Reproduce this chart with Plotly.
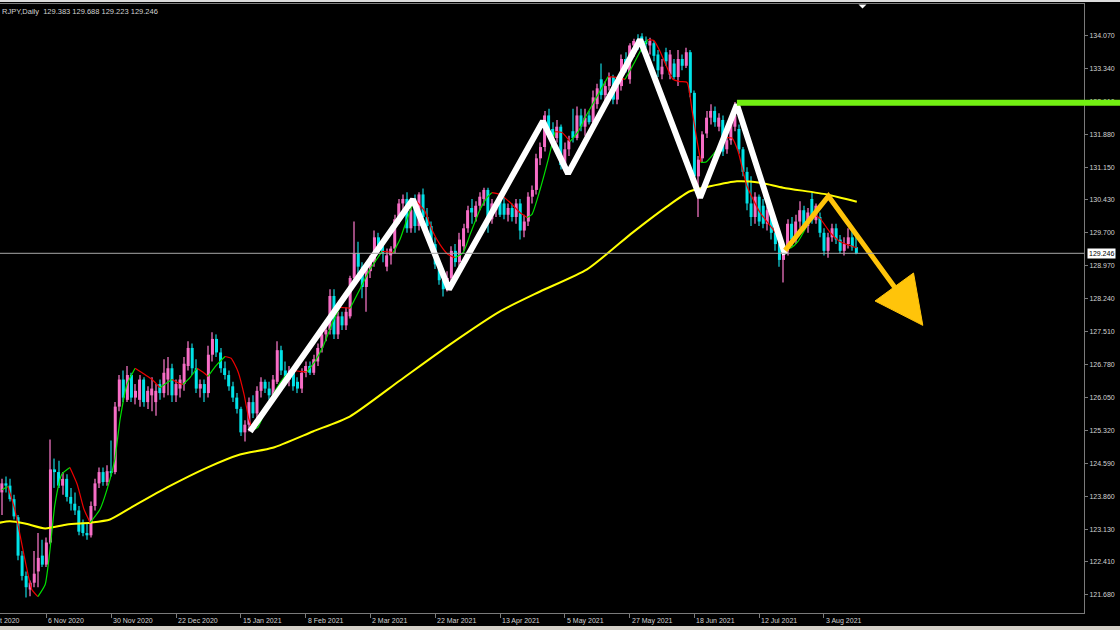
import plotly.graph_objects as go

# ---------------- data ----------------
symbol_title = "RJPY,Daily  129.383 129.688 129.223 129.246"
first_bar = 5  # index of first visible daily bar (bar 0 = mid Oct 2020, off-screen)

opens = [
    123.95,124.15,124.10,123.80,123.40,122.55,122.10,121.80,121.95,122.20,
    122.55,122.35,122.84,124.46,124.40,124.10,124.25,123.85,123.70,123.55,
    123.28,123.05,123.00,123.65,124.15,124.40,124.18,124.42,124.40,125.85,
    126.45,126.00,126.55,126.05,126.00,126.45,125.95,126.10,125.95,126.35,
    126.15,126.45,126.70,126.10,126.25,126.35,126.75,127.15,126.70,126.25,
    126.35,126.15,127.00,127.35,127.05,126.70,126.55,126.30,126.05,125.80,
    125.28,125.45,125.95,125.70,126.20,126.40,126.25,126.10,126.40,127.10,
    126.65,126.45,126.65,126.40,126.25,126.60,126.75,126.60,126.85,127.15,
    127.45,127.55,128.30,127.45,127.85,127.65,127.85,128.70,129.25,128.95,
    128.50,128.85,129.05,129.60,129.40,128.95,129.20,129.35,130.00,130.35,
    130.45,129.80,130.40,129.85,130.55,130.05,129.85,129.45,129.00,128.65,
    128.45,128.70,129.30,129.05,129.40,129.80,130.25,130.05,130.30,130.45,
    130.65,130.00,130.20,130.45,130.35,130.10,130.25,130.05,130.35,129.75,
    129.95,130.50,130.65,131.35,131.60,132.30,132.00,131.80,132.05,131.20,
    131.55,131.95,131.80,132.30,132.05,132.30,132.15,132.55,133.10,132.75,
    132.95,133.15,132.65,132.95,133.55,133.10,133.85,133.98,134.05,133.95,
    133.85,133.90,133.65,133.21,133.70,133.20,133.45,133.15,133.55,133.40,
    133.70,132.80,130.95,131.35,131.90,132.25,132.40,132.05,132.20,131.55,
    131.75,132.05,132.00,131.55,131.05,130.35,130.05,130.50,130.30,129.90,
    130.20,129.70,129.45,129.10,129.30,129.90,129.55,129.95,130.20,129.85,
    130.45,129.98,130.05,129.70,129.30,129.60,129.80,129.55,129.30,129.45,
    129.60,129.383,
]
highs = [
    124.25,124.30,124.25,123.90,123.45,122.65,122.20,122.00,122.65,123.05,
    122.90,122.95,125.12,124.70,124.65,124.40,124.35,124.05,123.95,123.65,
    123.35,123.25,123.75,124.25,124.50,124.50,124.55,125.10,125.95,126.55,
    126.65,126.75,126.60,126.35,126.55,126.50,126.30,126.50,126.35,126.45,
    126.90,126.95,126.80,126.45,126.55,126.95,127.30,127.25,126.90,126.45,
    126.45,127.20,127.50,127.45,127.15,126.85,126.65,126.40,126.15,125.85,
    125.55,126.05,126.10,126.30,126.50,126.45,126.40,126.55,127.30,127.20,
    126.85,126.75,126.70,126.50,126.70,126.85,126.85,127.00,127.25,127.55,
    127.70,128.45,128.45,127.95,127.95,128.05,128.75,129.95,129.50,129.05,
    129.05,129.20,129.75,129.70,129.50,129.35,129.40,130.10,130.45,130.55,
    130.60,130.30,130.55,130.60,130.68,130.25,129.95,129.60,129.10,128.75,
    128.85,129.40,129.45,129.70,129.90,130.30,130.45,130.40,130.60,130.70,
    130.70,130.45,130.40,130.55,130.50,130.35,130.35,130.45,130.45,130.10,
    130.60,130.75,131.45,131.70,132.40,132.45,132.15,132.20,132.10,131.70,
    131.85,132.45,132.50,132.45,132.45,132.40,132.85,133.00,133.45,133.05,
    133.25,133.20,133.10,133.65,133.70,133.90,134.00,134.10,134.12,134.05,
    134.02,133.95,133.75,133.55,133.80,133.75,133.55,133.75,133.65,133.80,
    133.75,132.85,131.40,131.95,132.40,132.55,132.50,132.35,132.30,131.85,
    132.30,132.60,132.10,131.60,131.15,130.95,130.60,130.55,130.45,130.30,
    130.25,129.75,129.50,129.35,130.00,130.05,130.10,130.40,130.30,130.25,
    130.60,130.35,130.15,129.80,129.70,129.90,129.90,129.65,129.60,129.80,
    129.75,129.688,
]
lows = [
    123.45,123.95,123.75,123.35,122.45,122.00,121.62,121.65,121.85,121.85,
    122.30,122.30,122.80,124.05,124.05,123.90,123.75,123.55,123.45,123.00,
    122.98,122.90,122.95,123.55,124.05,124.10,124.10,124.30,124.35,125.75,
    125.95,125.95,125.95,125.90,125.85,125.85,125.80,125.75,125.65,126.00,
    126.05,126.10,125.95,125.95,126.05,126.20,126.65,126.55,126.15,126.05,
    125.95,126.05,126.85,126.95,126.60,126.45,126.20,125.95,125.70,125.20,
    125.08,125.30,125.60,125.60,126.05,126.15,126.00,126.05,126.35,126.55,
    126.35,126.30,126.20,126.15,126.15,126.50,126.55,126.55,126.75,127.05,
    127.30,127.45,127.35,127.35,127.55,127.55,127.80,128.60,128.70,128.25,
    127.95,128.70,128.95,129.30,129.05,128.85,129.00,129.25,129.90,130.10,
    129.70,129.70,129.70,129.75,129.95,129.55,129.35,128.90,128.55,128.29,
    128.40,128.60,128.95,128.95,129.30,129.70,129.90,129.95,130.20,130.30,
    129.70,129.90,130.05,130.05,130.00,129.95,129.95,129.90,129.55,129.60,
    129.85,130.35,130.55,131.20,131.50,131.90,131.65,131.70,131.10,131.05,
    131.40,131.70,131.75,131.95,131.85,132.10,131.95,132.45,132.65,132.60,
    132.85,132.55,132.55,132.85,133.25,133.00,133.60,133.75,133.70,133.80,
    133.65,133.50,133.15,133.10,133.40,133.10,133.10,132.95,133.30,133.35,
    132.70,130.90,130.05,131.25,131.80,132.10,132.05,131.95,131.40,131.45,
    131.65,131.95,131.45,130.95,130.20,129.85,129.90,129.85,129.80,129.75,
    129.55,129.30,128.95,128.60,129.20,129.40,129.45,129.80,129.75,129.70,
    129.90,129.90,129.60,129.20,129.15,129.50,129.45,129.25,129.20,129.35,
    129.30,129.223,
]
closes = [
    124.15,124.10,123.80,123.42,122.55,122.10,121.85,121.95,122.15,122.50,
    122.35,122.84,124.46,124.40,124.10,124.25,123.85,123.70,123.55,123.08,
    123.05,123.00,123.65,124.15,124.40,124.18,124.42,124.40,125.85,126.45,
    126.05,126.55,126.05,126.20,126.45,125.95,126.20,126.25,126.20,126.15,
    126.60,126.70,126.10,126.35,126.45,126.80,127.15,126.70,126.25,126.35,
    126.15,127.00,127.35,127.05,126.70,126.55,126.30,126.05,125.80,125.28,
    125.45,125.95,125.70,126.20,126.40,126.25,126.10,126.45,127.10,126.65,
    126.45,126.65,126.30,126.25,126.60,126.75,126.60,126.90,127.15,127.45,
    127.55,128.30,127.45,127.85,127.65,127.95,128.70,129.25,128.95,128.50,
    128.90,129.10,129.60,129.40,129.25,129.20,129.35,130.00,130.35,130.45,
    129.80,130.20,129.85,130.55,130.05,129.85,129.45,129.00,128.65,128.45,
    128.70,129.30,129.05,129.55,129.80,130.20,130.15,130.30,130.50,130.65,
    130.00,130.35,130.30,130.10,130.10,130.25,130.05,130.35,129.75,129.95,
    130.50,130.65,131.35,131.60,132.30,132.00,131.80,132.05,131.20,131.55,
    131.75,131.80,132.30,132.05,132.25,132.15,132.70,132.90,132.75,132.95,
    133.15,132.65,132.95,133.55,133.35,133.85,133.95,133.85,133.78,133.88,
    133.95,133.62,133.30,133.38,133.50,133.65,133.15,133.55,133.40,133.70,
    132.80,130.95,131.32,131.88,132.25,132.40,132.15,132.25,131.50,131.75,
    132.20,132.30,131.55,131.05,130.35,130.05,130.50,129.95,129.90,130.20,
    129.70,129.45,129.10,129.30,129.90,129.55,129.95,130.20,129.85,130.15,
    129.98,130.30,129.70,129.30,129.60,129.80,129.55,129.30,129.45,129.60,
    129.38,129.246,
]

price_ticks = [134.070, 133.340, 132.610, 131.880, 131.150, 130.430, 129.700, 128.970, 128.240,
               127.510, 126.780, 126.050, 125.320, 124.590, 123.860, 123.130, 122.410, 121.680]

# date labels: the first one is only partly on screen in the original ("...t 2020")
date_tick_bars = [16, 32, 48, 64, 80, 96, 112, 128, 144, 160, 176, 192, 208]
date_tick_labels = ["6 Nov 2020", "30 Nov 2020", "22 Dec 2020", "15 Jan 2021",
                    "8 Feb 2021", "2 Mar 2021", "22 Mar 2021", "13 Apr 2021", "5 May 2021",
                    "27 May 2021", "18 Jun 2021", "12 Jul 2021", "3 Aug 2021"]
edge_date_label = "t 2020"

# slow moving average (yellow)
sma_bars = [4.5, 7.0, 10.7, 15.7, 21.1, 26.8, 31.7, 37.4, 45.8, 55.7, 63.8, 71.9, 81.8, 90.9,
            103.3, 115.7, 128.0, 137.9, 149.5, 160.8, 169.2, 174.9, 179.9, 186.5, 192.2, 197.9,
            208.7, 216.1]
sma_vals = [123.28, 123.31, 123.26, 123.15, 123.24, 123.28, 123.35, 123.64, 124.06, 124.50,
            124.79, 124.94, 125.30, 125.63, 126.43, 127.23, 127.96, 128.40, 128.89, 129.71,
            130.28, 130.62, 130.73, 130.84, 130.81, 130.70, 130.55, 130.39]

# fast smoothed average (green rising / red falling)
smooth_bars = [5.0, 6.5, 8.2, 10.7, 12.4, 13.9, 15.7, 16.9, 18.1, 19.8, 21.8, 23.6, 25.3, 26.8,
               29.2, 31.7, 32.9, 34.2, 35.9, 37.9, 40.3, 42.1, 44.0, 45.5, 47.0, 48.5, 49.7, 51.5,
               53.2, 54.7, 55.9, 57.9, 60.1, 61.6, 63.3, 64.8, 66.0, 67.0, 68.2, 70.2, 72.4, 74.7,
               76.6, 78.6, 80.3, 82.3, 84.3, 86.8, 88.5, 89.7, 91.0, 93.4, 95.9, 98.9, 100.3, 101.6,
               103.3, 105.0, 106.5, 107.5, 109.5, 111.2, 113.2, 115.2, 116.9, 118.9, 120.6, 123.1,
               124.8, 126.0, 128.0, 130.5, 132.9, 134.7, 135.9, 137.9, 139.9, 141.6, 143.3, 145.3,
               147.3, 149.0, 151.5, 154.7, 156.4, 158.9, 161.3, 163.1, 164.5, 166.0, 167.5, 169.0,
               170.7, 172.4, 174.2, 175.4, 176.6, 177.6, 178.9, 180.6, 182.3, 184.0, 185.3, 186.8,
               189.0, 192.2, 194.7, 196.4, 198.4, 199.9, 201.6, 203.6, 205.3, 207.0, 209.5, 211.9,
               214.4, 216.1]
smooth_vals = [124.01, 124.08, 123.57, 122.46, 121.80, 121.64, 121.91, 122.69, 123.68, 124.35,
               124.50, 124.13, 123.57, 123.28, 123.57, 124.24, 124.68, 125.57, 126.34, 126.70,
               126.56, 126.45, 126.27, 126.36, 126.45, 126.38, 126.34, 126.50, 126.70, 126.61,
               126.52, 126.76, 126.96, 126.92, 126.63, 126.12, 125.57, 125.34, 125.39, 125.79,
               126.19, 126.50, 126.65, 126.63, 126.62, 126.85, 127.18, 127.74, 128.05, 128.04,
               128.03, 128.45, 128.89, 129.29, 129.28, 129.26, 129.55, 129.99, 130.33, 130.39,
               130.17, 129.77, 129.44, 129.22, 129.15, 129.26, 129.66, 130.22, 130.48, 130.59,
               130.55, 130.37, 130.15, 130.04, 130.11, 130.66, 131.32, 131.94, 131.92, 131.72,
               131.94, 132.25, 132.65, 133.16, 133.15, 133.10, 133.49, 133.80, 133.98, 133.96,
               133.72, 133.41, 133.10, 133.05, 133.03, 132.43, 131.77, 131.26, 131.27, 131.43,
               131.63, 131.81, 131.80, 131.50, 130.73, 130.15, 129.86, 129.66, 129.33, 129.37,
               129.51, 129.82, 130.11, 130.02, 129.71, 129.51, 129.42, 129.37]

# hand-drawn analysis objects
zigzag_bars = [66.3, 106.5, 115.4, 138.6, 144.8, 162.6, 177.4, 186.5, 198.4]
zigzag_vals = [125.30, 130.44, 128.45, 132.17, 131.01, 133.98, 130.48, 132.54, 129.22]
forecast_bars = [198.4, 209.1, 225.5]
forecast_vals = [129.31, 130.51, 128.49]
arrow_bars = [220.6, 230.1, 232.4]
arrow_vals = [128.19, 128.81, 127.65]
resistance_level = 132.58
resistance_from_bar = 186.5
last_price = 129.246

# ---------------- style / layout ----------------
W, H = 1120, 630
M_L, M_R, M_T, M_B = 0, 36, 4, 17
X_RANGE = [4.543, 272.2]
Y_RANGE = [121.279, 134.768]
PLOT_W = W - M_L - M_R
PLOT_H = H - M_T - M_B
FONT = "Liberation Sans, Arial, sans-serif"
TXT = "#d2d2d2"
UP_BODY, DN_BODY = "#F76DC6", "#00E3E8"
UP_WICK, DN_WICK = "#9A4A7C", "#0B7F84"


def px_to_paper_x(px):
    return (px - M_L) / PLOT_W


def px_to_paper_y(py):
    return 1 - (py - M_T) / PLOT_H


def bar_to_paper_x(b):
    return (b - X_RANGE[0]) / (X_RANGE[1] - X_RANGE[0])


bars = [first_bar + k for k in range(len(closes))]

fig = go.Figure()

for is_up in (True, False):
    xs, wb, wh, bb, bh = [], [], [], [], []
    for b, o, h, l, c in zip(bars, opens, highs, lows, closes):
        if (c > o) != is_up:
            continue
        xs.append(b)
        wb.append(l)
        wh.append(h - l)
        bb.append(min(o, c))
        bh.append(max(abs(c - o), 0.022))
    fig.add_trace(go.Bar(x=xs, y=wh, base=wb, width=0.26,
                         marker=dict(color=UP_WICK if is_up else DN_WICK, line=dict(width=0)),
                         hoverinfo="skip"))
    fig.add_trace(go.Bar(x=xs, y=bh, base=bb, width=0.74,
                         marker=dict(color=UP_BODY if is_up else DN_BODY, line=dict(width=0)),
                         hoverinfo="skip"))

# yellow moving average
fig.add_trace(go.Scatter(x=sma_bars, y=sma_vals, mode="lines",
                         line=dict(color="#FFFF00", width=2, shape="spline", smoothing=0.6),
                         hoverinfo="skip"))

# coloured smooth average, split into rising / falling runs
runs = []
cur = [0]
cur_dir = None
for k in range(1, len(smooth_vals)):
    d = smooth_vals[k] >= smooth_vals[k - 1]
    if cur_dir is None or d == cur_dir:
        cur.append(k)
        cur_dir = d
    else:
        runs.append((cur_dir, cur))
        cur = [k - 1, k]
        cur_dir = d
runs.append((cur_dir, cur))
for rising, idx in runs:
    fig.add_trace(go.Scatter(x=[smooth_bars[k] for k in idx], y=[smooth_vals[k] for k in idx],
                             mode="lines",
                             line=dict(color="#00E000" if rising else "#F00000", width=1.2,
                                       shape="spline", smoothing=0.5),
                             hoverinfo="skip"))

# white zigzag
fig.add_trace(go.Scatter(x=zigzag_bars, y=zigzag_vals, mode="lines",
                         line=dict(color="#FFFFFF", width=6), hoverinfo="skip"))
# orange forecast path and arrow head
fig.add_trace(go.Scatter(x=forecast_bars, y=forecast_vals, mode="lines",
                         line=dict(color="#FFC40A", width=5), hoverinfo="skip"))
fig.add_trace(go.Scatter(x=arrow_bars + [arrow_bars[0]], y=arrow_vals + [arrow_vals[0]],
                         mode="lines", fill="toself", fillcolor="#FFC40A",
                         line=dict(color="#FFC40A", width=1), hoverinfo="skip"))

shapes = [
    # bid line
    dict(type="line", xref="paper", yref="y", x0=0, x1=1, y0=last_price, y1=last_price,
         line=dict(color="#A8A8A8", width=1), layer="above"),
    # resistance line (extends over the price scale)
    dict(type="line", xref="paper", yref="y", x0=bar_to_paper_x(resistance_from_bar),
         x1=px_to_paper_x(W + 2), y0=resistance_level, y1=resistance_level,
         line=dict(color="#72EE12", width=6), layer="above"),
    # window chrome strips
    dict(type="rect", xref="paper", yref="paper", x0=px_to_paper_x(0), x1=px_to_paper_x(W),
         y0=px_to_paper_y(0), y1=px_to_paper_y(2), fillcolor="#dcdcdc", line=dict(width=0)),
    dict(type="rect", xref="paper", yref="paper", x0=px_to_paper_x(0), x1=px_to_paper_x(W),
         y0=px_to_paper_y(626), y1=px_to_paper_y(631), fillcolor="#d4d0c8", line=dict(width=0)),
    # chart-shift marker
    dict(type="path", xref="paper", yref="paper",
         path="M {a},{t} L {b},{t} L {m},{u} Z".format(
             a=px_to_paper_x(858.5), b=px_to_paper_x(866.5), m=px_to_paper_x(862.5),
             t=px_to_paper_y(4.5), u=px_to_paper_y(8.5)),
         fillcolor="#FFFFFF", line=dict(width=0)),
]

annotations = [
    dict(text=symbol_title, xref="paper", yref="paper", x=px_to_paper_x(0), y=px_to_paper_y(5),
         xanchor="left", yanchor="top", showarrow=False,
         font=dict(family=FONT, size=7.5, color=TXT)),
    dict(text=f"{last_price:.3f}", xref="paper", yref="y", x=1, y=last_price,
         xanchor="left", yanchor="middle", xshift=3, showarrow=False, bgcolor="#FFFFFF",
         borderpad=1, font=dict(family=FONT, size=7, color="#000000")),
    dict(text=edge_date_label, xref="paper", yref="paper", x=px_to_paper_x(0), y=0,
         xanchor="left", yanchor="top", yshift=-2, xshift=-2, showarrow=False,
         font=dict(family=FONT, size=7, color=TXT)),
]
for tb, lab in zip(date_tick_bars, date_tick_labels):
    annotations.append(dict(text=lab, xref="paper", yref="paper", x=bar_to_paper_x(tb), y=0,
                            xanchor="left", yanchor="top", yshift=-2, showarrow=False,
                            font=dict(family=FONT, size=7, color=TXT)))

fig.update_layout(
    width=W, height=H,
    margin=dict(l=M_L, r=M_R, t=M_T, b=M_B, pad=0),
    paper_bgcolor="#000000", plot_bgcolor="#000000",
    showlegend=False, barmode="overlay", hovermode=False,
    shapes=shapes, annotations=annotations,
    xaxis=dict(range=X_RANGE, showgrid=False, zeroline=False, showline=True, mirror=True,
               linecolor="#7a7a7a", linewidth=1, ticks="outside", ticklen=4, tickcolor="#7a7a7a",
               tickvals=date_tick_bars, showticklabels=False, fixedrange=True),
    yaxis=dict(range=Y_RANGE, side="right", showgrid=False, zeroline=False, showline=True,
               linecolor="#7a7a7a", linewidth=1, ticks="outside", ticklen=3, tickcolor="#7a7a7a",
               tickvals=price_ticks, ticktext=[f"{v:.3f}" for v in price_ticks],
               tickfont=dict(family=FONT, size=7, color=TXT), fixedrange=True),
)

fig.write_html("out.html", config={"displayModeBar": False},
               post_script="document.body.style.margin='0';document.body.style.overflow='hidden';")
